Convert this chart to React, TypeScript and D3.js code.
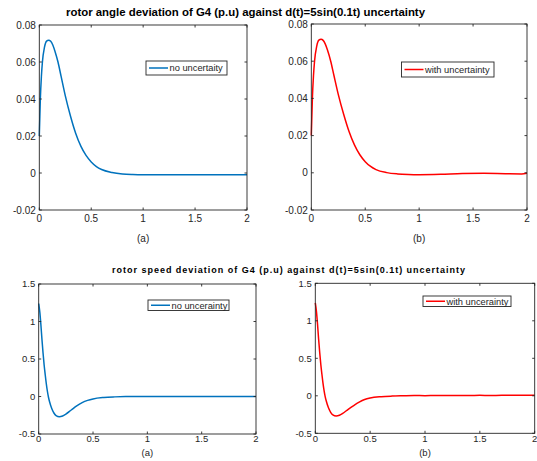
import React from "react";
import * as d3 from "d3";

// ---- data ----
const xTicks = [0, 0.5, 1, 1.5, 2];
const angleTicks = [-0.02, 0, 0.02, 0.04, 0.06, 0.08];
const speedTicks = [-0.5, 0, 0.5, 1, 1.5];

const angleT = [0, 0.01, 0.02, 0.03, 0.05, 0.07, 0.09, 0.11, 0.13, 0.15, 0.18, 0.21, 0.25, 0.3, 0.35, 0.4, 0.45, 0.5, 0.55, 0.6, 0.7, 0.8, 0.9, 1.0, 1.2, 1.5, 1.8, 2.0];
const angleNoUnc = [0.02, 0.04, 0.052, 0.06, 0.068, 0.0713, 0.0718, 0.0712, 0.0692, 0.066, 0.06, 0.0522, 0.0418, 0.0308, 0.0215, 0.0145, 0.0095, 0.006, 0.0035, 0.0019, 0.0003, -0.0005, -0.0008, -0.0009, -0.0009, -0.0009, -0.0009, -0.0009];

const angleT2 = [0, 0.01, 0.02, 0.03, 0.05, 0.07, 0.09, 0.11, 0.13, 0.15, 0.18, 0.21, 0.25, 0.3, 0.35, 0.4, 0.45, 0.5, 0.55, 0.6, 0.7, 0.8, 0.9, 1.0, 1.2, 1.4, 1.6, 1.8, 1.95, 2.0];
const angleWithUnc = [0.02, 0.04, 0.052, 0.06, 0.068, 0.0713, 0.0718, 0.0712, 0.0692, 0.066, 0.06, 0.0523, 0.0422, 0.0315, 0.0222, 0.015, 0.0097, 0.006, 0.0034, 0.0017, 0.0001, -0.0006, -0.0009, -0.001, -0.0008, -0.0004, -0.0003, -0.0005, -0.0006, -0.0003];

const speedT = [0, 0.01, 0.02, 0.03, 0.04, 0.05, 0.06, 0.07, 0.08, 0.09, 0.1, 0.12, 0.14, 0.16, 0.19, 0.22, 0.25, 0.3, 0.35, 0.4, 0.45, 0.5, 0.6, 0.7, 0.8, 0.9, 1.0, 1.1, 1.2, 1.3, 1.4, 1.5, 1.6, 1.7, 1.8, 1.9, 2.0];
const speedNoUnc = [1.24, 1.13, 0.96, 0.76, 0.58, 0.42, 0.29, 0.17, 0.07, -0.01, -0.07, -0.16, -0.22, -0.255, -0.27, -0.26, -0.235, -0.18, -0.125, -0.082, -0.052, -0.032, -0.013, -0.005, -0.001, 0, 0, 0, 0, 0, 0, 0, 0, 0, 0, 0, 0];
const speedWithUnc = [1.24, 1.13, 0.96, 0.76, 0.58, 0.42, 0.29, 0.17, 0.07, -0.01, -0.07, -0.16, -0.22, -0.255, -0.27, -0.26, -0.235, -0.18, -0.13, -0.085, -0.05, -0.03, -0.012, -0.004, 0.0, 0.003, 0.002, 0.004, 0.003, 0.005, 0.004, 0.006, 0.005, 0.006, 0.006, 0.007, 0.007];

const BLUE = "#0072BD";
const RED = "#FF0000";
const AX = "#262626";
const FONT = "'Liberation Sans', Arial, Helvetica, sans-serif";

type PanelProps = {
  x0: number; x1: number; y0: number; y1: number;
  yDomain: [number, number]; yTicks: number[];
  t: number[]; v: number[]; color: string;
  legend: string; lx0: number; lx1: number; ly0: number; ly1: number;
  sub: string; subY: number; tickFs: number; xLabY: number;
};

function Panel(p: PanelProps) {
  const xs = d3.scaleLinear().domain([0, 2]).range([p.x0, p.x1]);
  const ys = d3.scaleLinear().domain(p.yDomain).range([p.y1, p.y0]);
  const pts = p.t.map((t, i) => [t, p.v[i]] as [number, number]);
  const line = d3.line<[number, number]>().x(d => xs(d[0])).y(d => ys(d[1])).curve(d3.curveMonotoneX);
  const tl = 2.5;
  const fmt = (v: number) => String(v);
  return (
    <g>
      <rect x={p.x0} y={p.y0} width={p.x1 - p.x0} height={p.y1 - p.y0} fill="#fff" />
      <path d={line(pts) || ""} fill="none" stroke={p.color} strokeWidth={1.5} />
      <rect x={p.x0} y={p.y0} width={p.x1 - p.x0} height={p.y1 - p.y0} fill="none" stroke={AX} strokeWidth={0.9} />
      {xTicks.map(v => (
        <g key={"x" + v}>
          <line x1={xs(v)} x2={xs(v)} y1={p.y1} y2={p.y1 - tl} stroke={AX} strokeWidth={0.9} />
          <line x1={xs(v)} x2={xs(v)} y1={p.y0} y2={p.y0 + tl} stroke={AX} strokeWidth={0.9} />
          <text x={xs(v)} y={p.xLabY} textAnchor="middle" fontSize={p.tickFs} fill={AX} fontFamily={FONT}>{fmt(v)}</text>
        </g>
      ))}
      {p.yTicks.map(v => (
        <g key={"y" + v}>
          <line x1={p.x0} x2={p.x0 + tl} y1={ys(v)} y2={ys(v)} stroke={AX} strokeWidth={0.9} />
          <line x1={p.x1} x2={p.x1 - tl} y1={ys(v)} y2={ys(v)} stroke={AX} strokeWidth={0.9} />
          <text x={p.x0 - 3.5} y={ys(v)} dy="0.35em" textAnchor="end" fontSize={p.tickFs} fill={AX} fontFamily={FONT}>{fmt(v)}</text>
        </g>
      ))}
      <rect x={p.lx0} y={p.ly0} width={p.lx1 - p.lx0} height={p.ly1 - p.ly0} fill="#fff" stroke={AX} strokeWidth={0.9} />
      <line x1={p.lx0 + 3} x2={p.lx0 + 22} y1={(p.ly0 + p.ly1) / 2} y2={(p.ly0 + p.ly1) / 2} stroke={p.color} strokeWidth={1.5} />
      <text x={p.lx0 + 23.5} y={(p.ly0 + p.ly1) / 2} dy="0.35em" fontSize={9.3} fill={AX} fontFamily={FONT}>{p.legend}</text>
      <text x={(p.x0 + p.x1) / 2} y={p.subY} dy="0.35em" textAnchor="middle" fontSize={p.tickFs} fill={AX} fontFamily={FONT}>{p.sub}</text>
    </g>
  );
}

export default function App() {
  return (
    <svg width={537} height={461} style={{ position: "absolute", left: 0, top: 0, background: "#fff" }}>
      <rect width={537} height={461} fill="#fff" />
      <text x={66} y={16} fontSize={11} fontWeight="bold" fill="#000" fontFamily={FONT} textLength={359} lengthAdjust="spacingAndGlyphs">
        rotor angle deviation of G4 (p.u) against d(t)=5sin(0.1t) uncertainty
      </text>
      <Panel x0={39.3} x1={247} y0={25} y1={210} yDomain={[-0.02, 0.08]} yTicks={angleTicks}
        t={angleT} v={angleNoUnc} color={BLUE} legend="no uncertaity"
        lx0={146} lx1={227} ly0={61} ly1={75} sub="(a)" subY={238} tickFs={10} xLabY={222} />
      <Panel x0={311.3} x1={527} y0={24} y1={210} yDomain={[-0.02, 0.08]} yTicks={angleTicks}
        t={angleT2} v={angleWithUnc} color={RED} legend="with uncertainty"
        lx0={401.5} lx1={494} ly0={62} ly1={77} sub="(b)" subY={238} tickFs={10} xLabY={222} />
      <text x={112} y={273} fontSize={9} fontWeight="bold" fill="#000" fontFamily={FONT} textLength={353} lengthAdjust="spacing">
        rotor speed deviation of G4 (p.u) against d(t)=5sin(0.1t) uncertainty
      </text>
      <Panel x0={38.7} x1={256} y0={284} y1={434} yDomain={[-0.5, 1.5]} yTicks={speedTicks}
        t={speedT} v={speedNoUnc} color={BLUE} legend="no uncerainty"
        lx0={148} lx1={229} ly0={300} ly1={310.5} sub="(a)" subY={453} tickFs={9.5} xLabY={442} />
      <Panel x0={315.3} x1={534.7} y0={283.3} y1={433.3} yDomain={[-0.5, 1.5]} yTicks={speedTicks}
        t={speedT} v={speedWithUnc} color={RED} legend="with uncerainty"
        lx0={423} lx1={511} ly0={296} ly1={306.5} sub="(b)" subY={453} tickFs={9.5} xLabY={442} />
    </svg>
  );
}
